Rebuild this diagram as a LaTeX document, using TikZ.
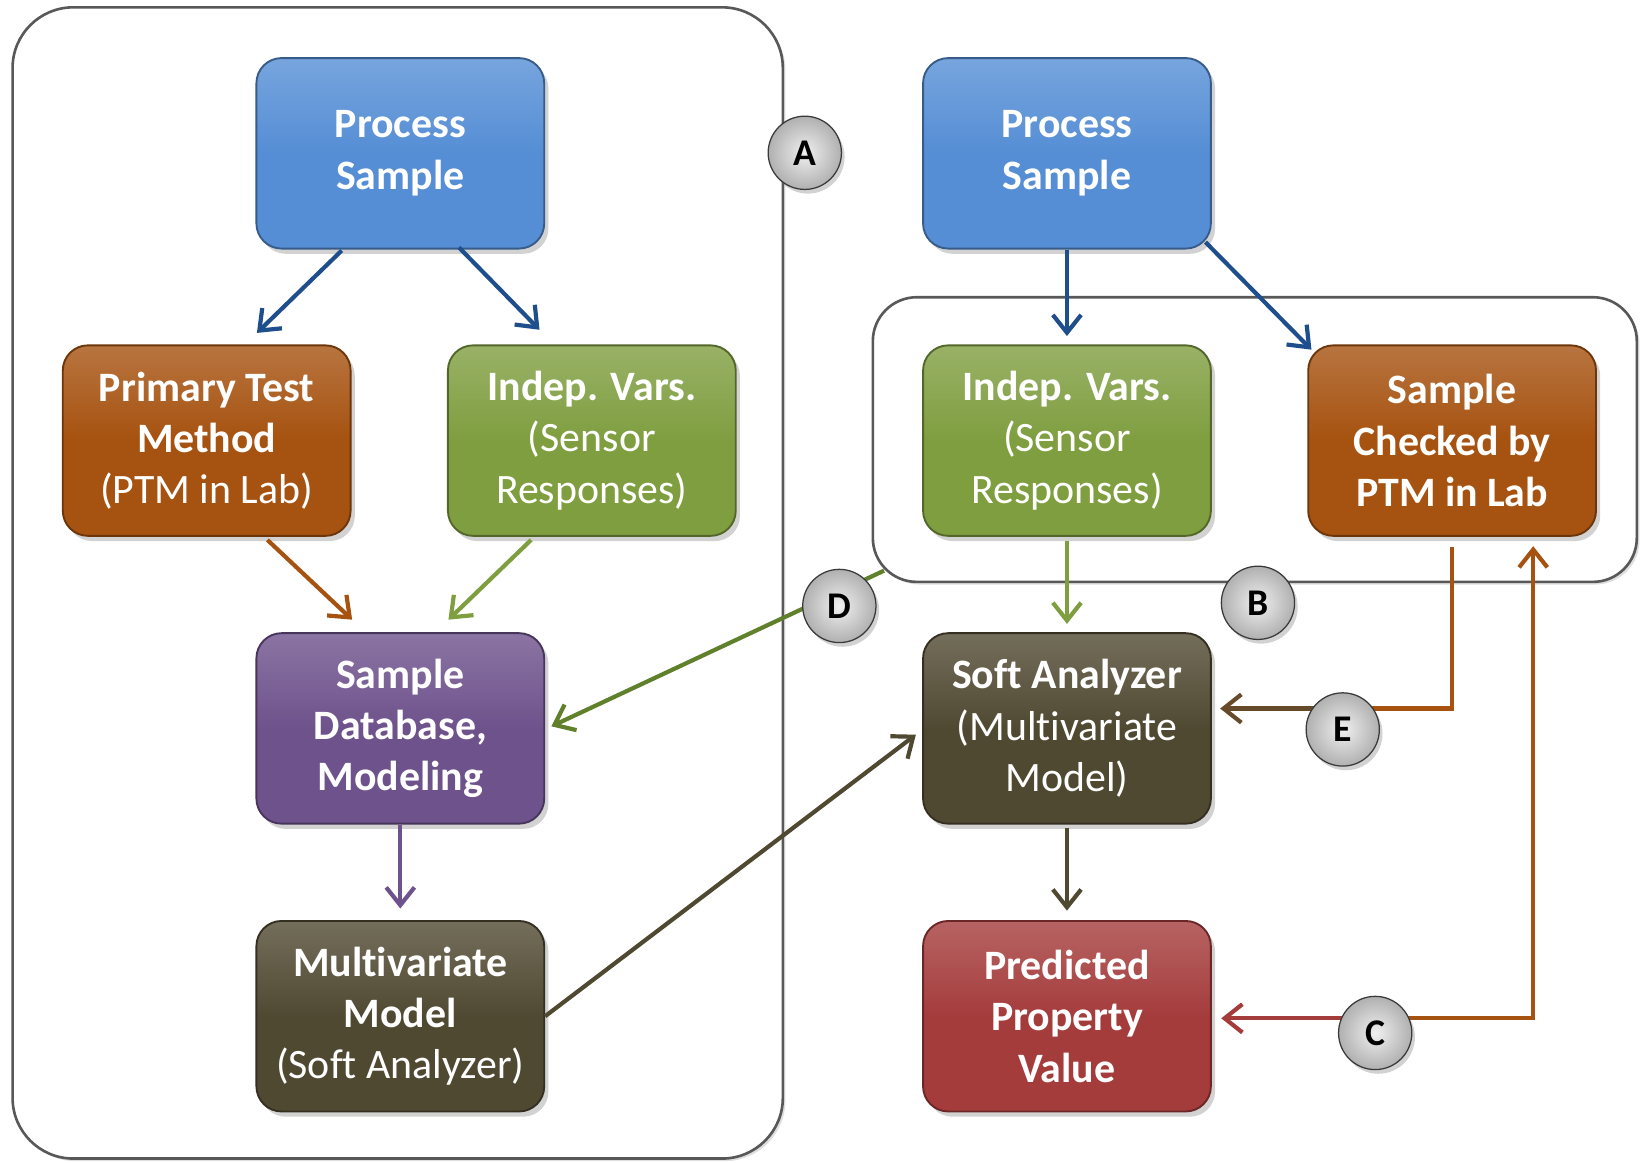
\documentclass[tikz,border=0pt]{standalone}
\usepackage{fontspec}
\setmainfont{Carlito}[Ligatures={NoCommon}]
\usetikzlibrary{arrows.meta,shadows,calc}

% box fills
\definecolor{psblue}{RGB}{85,142,213}
\definecolor{ptmorange}{RGB}{166,82,16}
\definecolor{ivgreen}{RGB}{127,158,64}
\definecolor{dbpurple}{RGB}{110,82,140}
\definecolor{mmolive}{RGB}{80,73,50}
\definecolor{pvred}{RGB}{165,60,60}
% connector and frame colours
\definecolor{arrblue}{RGB}{31,78,140}
\definecolor{arrgreen}{RGB}{96,128,44}
\definecolor{framegray}{RGB}{88,88,88}

\begin{document}
\begin{tikzpicture}[x=1pt,y=-1pt,
  stepbox/.style={rounded corners=24pt, minimum width=275pt, minimum height=182pt,
    inner sep=2pt, align=center, text=white, line width=1.8pt,
    font=\fontsize{40}{49}\selectfont,
    drop shadow={shadow xshift=4pt,shadow yshift=-5pt,opacity=0.35}},
  tint/.style={draw=#1!65!black, top color=#1!80!white, bottom color=#1, middle color=#1},
  group/.style={draw=framegray, line width=2.5pt, fill=white,
    drop shadow={shadow xshift=2.5pt,shadow yshift=-2.5pt,opacity=0.25}},
  badge/.style={circle, minimum size=70pt, inner sep=0pt, inner color=gray!12, outer color=gray!62,
    draw=gray!45!black, line width=1.2pt, text=black,
    font=\fontsize{36}{36}\selectfont\bfseries,
    drop shadow={shadow xshift=3pt,shadow yshift=-4pt,opacity=0.35}},
  link/.style={line width=4pt, draw=#1, -{Straight Barb[length=17pt,width=27pt]}},
  plain/.style={line width=4pt, draw=#1},
]
\useasboundingbox (0,0) rectangle (1568,1111);
\fill[white] (0,0) rectangle (1568,1111);

% grouping frames
\node[group, rounded corners=58pt, minimum width=736pt, minimum height=1100pt] (grpA) at (380,557) {};
\node[group, rounded corners=42pt, minimum width=730pt, minimum height=272pt] (grpB) at (1199,420) {};

% left-hand flow: building the model
\node[stepbox, tint=psblue] (ps1) at (382.5,146.5) {\textbf{Process}\\\textbf{Sample}};
\node[stepbox, tint=ptmorange] (ptm) at (197.5,421) {\textbf{Primary Test}\\\textbf{Method}\\(PTM in Lab)};
\node[stepbox, tint=ivgreen] (iv1) at (565.5,421) {\textbf{Indep. Vars.}\\(Sensor\\Responses)};
\node[stepbox, tint=dbpurple] (sd) at (382.5,696) {\textbf{Sample}\\\textbf{Database,}\\\textbf{Modeling}};
\node[stepbox, tint=mmolive] (mm) at (382.5,971) {\textbf{Multivariate}\\\textbf{Model}\\(Soft Analyzer)};

% right-hand flow: using the model
\node[stepbox, tint=psblue] (ps2) at (1019.5,146.5) {\textbf{Process}\\\textbf{Sample}};
\node[stepbox, tint=ivgreen] (iv2) at (1019.5,421) {\textbf{Indep. Vars.}\\(Sensor\\Responses)};
\node[stepbox, tint=ptmorange] (sc) at (1387.5,421) {\textbf{Sample}\\\textbf{Checked by}\\\textbf{PTM in Lab}};
\node[stepbox, tint=mmolive] (sa) at (1019.5,696) {\textbf{Soft Analyzer}\\(Multivariate\\Model)};
\node[stepbox, tint=pvred] (pv) at (1019.5,971) {\textbf{Predicted}\\\textbf{Property}\\\textbf{Value}};

% connectors, left
\draw[link=arrblue] ($(ps1.south)+(-56,1)$) -- ($(ptm.north)+(48,-11)$);
\draw[link=arrblue] ($(ps1.south)+(56,-2)$) -- ($(iv1.north)+(-50,-14)$);
\draw[link=ptmorange] ($(ptm.south)+(58,3)$) -- ($(sd.north)+(-46,-12)$);
\draw[link=ivgreen] ($(iv1.south)+(-58,3)$) -- ($(sd.north)+(46,-12)$);
\draw[link=dbpurple] (sd.south) -- ($(mm.north)+(0,-11)$);

% connectors, right
\draw[link=arrblue] (ps2.south) -- ($(iv2.north)+(0,-8)$);
\draw[link=arrblue] ($(ps2.south east)+(-6,-7)$) -- ($(sc.north west)+(4,5)$);
\draw[link=ivgreen] ($(iv2.south)+(0,4)$) -- ($(sa.north)+(0,-8)$);
\draw[link=mmolive] ($(sa.south)+(0,3)$) -- ($(pv.north)+(0,-9)$);

% model handed over to the analyzer
\draw[link=mmolive] (mm.east) -- ($(sa.west)+(-6,6)$);

% new samples feed the database
\coordinate (dstart) at ($(grpB.south west)+(12,-12)$);
\draw[link=arrgreen] (dstart) -- ($(sd.east)+(6,-2)$);

% lab check updates the analyzer
\coordinate (ecorner) at ($(sc.south |- sa.east)+(0,-19)$);
\coordinate (ejoin) at ($(sa.east)+(126,-19)$);
\draw[plain=ptmorange] ($(sc.south)+(0,10)$) -- (ecorner) -- (ejoin);
\draw[link=mmolive!75!ptmorange] (ejoin) -- ($(sa.east)+(8,-19)$);

% prediction compared with lab value
\coordinate (cjoin) at ($(pv.east)+(156,2)$);
\draw[link=pvred] (cjoin) -- ($(pv.east)+(9,2)$);
\draw[link=ptmorange] (cjoin) -| ($(sc.south)+(77.5,9)$);

% lettered markers
\node[badge] (bA) at (769,146) {A};
\node[badge] (bB) at (1202,576) {B};
\node[badge] (bC) at (1314,987) {C};
\node[badge] (bD) at (802,579) {D};
\node[badge] (bE) at (1283,697) {E};
\end{tikzpicture}
\end{document}
